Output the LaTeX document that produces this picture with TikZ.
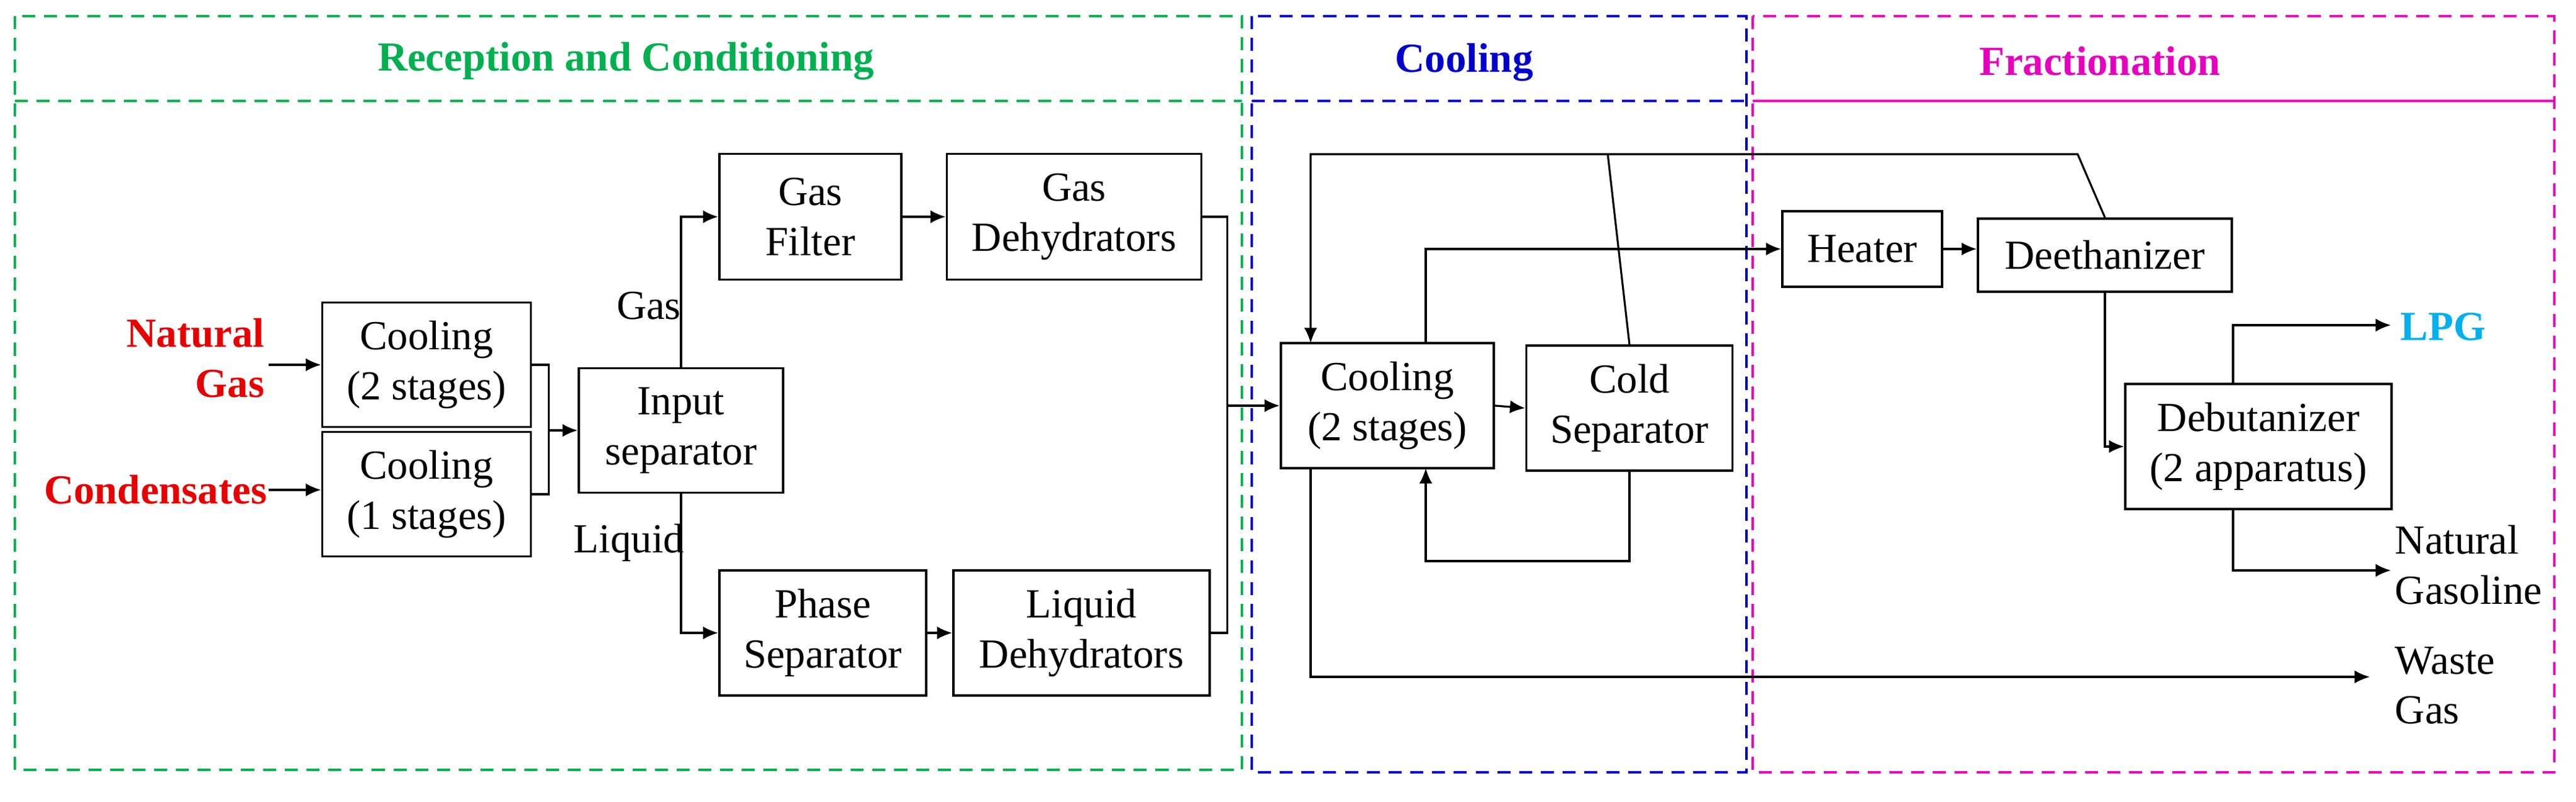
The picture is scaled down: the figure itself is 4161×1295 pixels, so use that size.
\documentclass[tikz,border=0pt]{standalone}
\usepackage{fontspec}
\setmainfont{Liberation Serif}
\usetikzlibrary{arrows.meta}
\definecolor{gr}{RGB}{0,176,80}
\definecolor{bl}{RGB}{0,0,204}
\definecolor{pk}{RGB}{230,0,190}
\definecolor{rd}{RGB}{230,0,0}
\definecolor{cy}{RGB}{0,176,240}
\begin{document}
\begin{tikzpicture}[x=0.01cm,y=-0.01cm,
  box/.style={draw,line width=1pt,inner sep=0pt,align=center,font=\fontsize{19}{23}\selectfont},
  lab/.style={inner sep=0pt,font=\fontsize{19}{23}\selectfont},
  title/.style={inner sep=0pt,font=\fontsize{19}{23}\selectfont\bfseries},
  fl/.style={line width=0.9pt,-{Latex[length=7pt,width=6pt]}},
  ln/.style={line width=0.9pt},
  zone/.style={line width=1pt,dash pattern=on 6pt off 4pt}]
\useasboundingbox (0,0) rectangle (4161,1295);
% zones
\draw[zone,gr] (24,26) rectangle (2006,1243);
\draw[zone,gr] (24,163) -- (2006,163);
\node[title,text=gr] (t1) at (1011,99) {Reception and Conditioning};
\draw[zone,bl] (2022,26) rectangle (2821,1247);
\draw[zone,bl] (2022,163) -- (2821,163);
\node[title,text=bl] (t2) at (2365,101) {Cooling};
\draw[zone,pk] (2831,26) rectangle (4126,1247);
\draw[line width=1pt,pk] (2831,163) -- (4126,163);
\node[title,text=pk] (t3) at (3392,99) {Fractionation};
% boxes
\node[box,minimum width=3.37cm,minimum height=2.01cm] (c1) at (689,589) {Cooling\\(2 stages)};
\node[box,minimum width=3.37cm,minimum height=2.01cm] (c2) at (689,798) {Cooling\\(1 stages)};
\node[box,minimum width=3.30cm,minimum height=2.01cm] (is) at (1100,695) {Input\\separator};
\node[box,minimum width=2.94cm,minimum height=2.03cm] (gf) at (1309,350) {Gas\\Filter};
\node[box,minimum width=4.11cm,minimum height=2.03cm] (gd) at (1735,350) {Gas\\Dehydrators};
\node[box,minimum width=3.34cm,minimum height=2.02cm] (ps) at (1329,1022) {Phase\\Separator};
\node[box,minimum width=4.14cm,minimum height=2.02cm] (ld) at (1747,1022) {Liquid\\Dehydrators};
\node[box,minimum width=3.44cm,minimum height=2.02cm] (c3) at (2241,655) {Cooling\\(2 stages)};
\node[box,minimum width=3.33cm,minimum height=2.02cm] (cs) at (2632,659) {Cold\\Separator};
\node[box,minimum width=2.58cm,minimum height=1.22cm] (ht) at (3008,402) {Heater};
\node[box,minimum width=4.10cm,minimum height=1.18cm] (de) at (3400,412) {Deethanizer};
\node[box,minimum width=4.30cm,minimum height=2.02cm] (db) at (3648,721) {Debutanizer\\(2 apparatus)};
% texts
\node[title,text=rd,align=right,anchor=east] (ng) at (428,578) {Natural\\Gas};
\node[title,text=rd,anchor=east] (cd) at (432,791) {Condensates};
\node[lab] (lg) at (1048,494) {Gas};
\node[lab] (ll) at (1016,876) {Liquid};
\node[title,text=cy,anchor=west] (lpg) at (3877,528) {LPG};
\node[lab,align=left,anchor=west] (ngs) at (3868,912) {Natural\\Gasoline};
\node[lab,align=left,anchor=west] (wg) at (3868,1107) {Waste\\Gas};
% coordinates
\coordinate (a1) at (434,589);
\coordinate (a2) at (434,791);
\coordinate (lpge) at (3862,525);
\coordinate (nge) at (3862,921);
\coordinate (wge) at (3828,1093);
\coordinate (j1) at (885,695);
% connectors
\draw[fl] (a1) -- (c1.west);
\draw[fl] (a2) -- (a2 -| c2.west);
\draw[ln] (c1.east) -- ++(27,0) |- (c2.east);
\draw[fl] (j1) -- (is.west);
\draw[fl] (is.north) |- (gf.west);
\draw[fl] (is.south) |- (ps.west);
\draw[fl] (gf.east) -- (gd.west);
\draw[fl] (ps.east) -- (ld.west);
\draw[ln] (gd.east) -- ++(40,0) coordinate (m1) -- (m1 |- ld.east) -- (ld.east);
\draw[fl] (m1 |- c3.west) -- (c3.west);
\draw[fl] (c3.east) -- (cs.west);
\draw[fl] (de.north) -- (3356,249) -- (2117,249) -- (2117,554);
\draw[ln] (cs.north) -- (2597,249);
\draw[fl] (2303,554) |- (ht.west);
\draw[fl] (ht.east) -- (de.west |- ht.east);
\draw[fl] (de.south) |- (db.west);
\draw[fl] (3607,620) |- (lpge);
\draw[fl] (3607,822) |- (nge);
\draw[fl] (2117,756) |- (wge);
\draw[fl] (cs.south) |- (2303,906) -- (2303,756);
\end{tikzpicture}
\end{document}
